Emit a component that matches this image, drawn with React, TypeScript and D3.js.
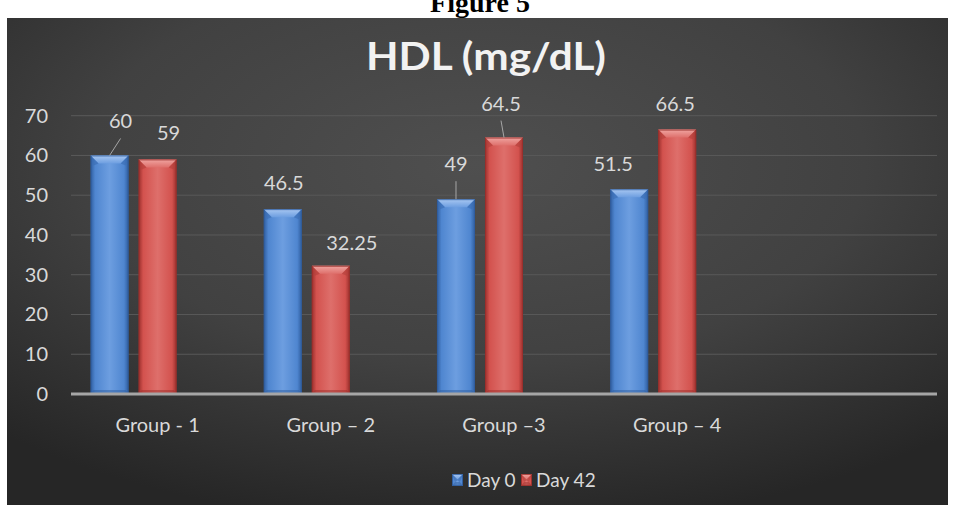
import React from "react";
import * as d3 from "d3";

const categories = ["Group - 1", "Group \u2013 2", "Group \u20133", "Group \u2013 4", ""];
const seriesNames = ["Day 0", "Day 42", ""];
const day0 = [60, 46.5, 49, 51.5];
const day42 = [59, 32.25, 64.5, 66.5];
const yTicks = [0, 10, 20, 30, 40, 50, 60, 70];

// label placement tweaks (display config, not data)
const day0LabelShift = [[11, -8], [1, 0], [0, -9], [-16, 1]];
const day42LabelShift = [[11, 0], [21, 3], [-3, -8], [-2, 0]];
const day0Leader = [true, false, true, false];
const day42Leader = [false, false, true, false];

const W = 956;
const H = 513;
const panel = { x: 7, y: 18, w: 941, h: 487 };
const plot = { left: 71, right: 937, top: 115.7, bottom: 394 };
const FONT = "Lato, 'Open Sans', sans-serif";
const TXT = "#d9d9d9";

const palettes = [
  { base: "#4f86d0", light: "#a9c8f2", mid: "#6d9ee0", dark: "#2f5d9e", edge: "#3a6db3" },
  { base: "#d3524e", light: "#f0a5a1", mid: "#de6f6b", dark: "#9a2f2c", edge: "#b33f3b" },
];

function Bar({ x, y, w, h, p, id }: any) {
  const b = Math.min(8, h / 2);
  const s = 3;
  return (
    <g>
      <defs>
        <linearGradient id={`bg${id}`} x1="0" x2="1" y1="0" y2="0">
          <stop offset="0" stopColor={p.dark} />
          <stop offset="0.12" stopColor={p.base} />
          <stop offset="0.5" stopColor={p.mid} />
          <stop offset="0.88" stopColor={p.base} />
          <stop offset="1" stopColor={p.dark} />
        </linearGradient>
        <linearGradient id={`tg${id}`} x1="0" x2="0" y1="0" y2="1">
          <stop offset="0" stopColor={p.light} />
          <stop offset="1" stopColor={p.mid} />
        </linearGradient>
      </defs>
      <rect x={x} y={y} width={w} height={h} fill={`url(#bg${id})`} />
      <polygon points={`${x},${y} ${x + w},${y} ${x + w - b},${y + b} ${x + b},${y + b}`} fill={`url(#tg${id})`} />
      <polygon points={`${x},${y} ${x + b},${y + b} ${x + s},${y + b + 2} `} fill={p.edge} opacity={0.6} />
      <polygon points={`${x + w},${y} ${x + w - b},${y + b} ${x + w - s},${y + b + 2}`} fill={p.edge} opacity={0.6} />
      <polygon points={`${x},${y + h} ${x + w},${y + h} ${x + w - s},${y + h - 4} ${x + s},${y + h - 4}`} fill={p.dark} opacity={0.5} />
      <rect x={x + 0.5} y={y + 0.5} width={w - 1} height={h - 1} fill="none" stroke={p.dark} strokeWidth={1} opacity={0.8} />
    </g>
  );
}

export default function App() {
  const x0 = d3.scaleBand<string>().domain(categories.map((c, i) => String(i))).range([plot.left, plot.right]).paddingInner(0.226).paddingOuter(0.113);
  const x1 = d3.scaleBand<string>().domain(seriesNames.map((s, i) => String(i))).range([0, x0.bandwidth()]).paddingInner(0.208);
  const y = d3.scaleLinear().domain([0, 70]).range([plot.bottom, plot.top]);

  const series = [
    { values: day0, shift: day0LabelShift, leader: day0Leader },
    { values: day42, shift: day42LabelShift, leader: day42Leader },
  ];

  return (
    <svg width={W} height={H} style={{ position: "absolute", left: 0, top: 0, background: "#fff" }}>
      <defs>
        <radialGradient id="panelBg" cx="0.5" cy="0.3" r="0.75">
          <stop offset="0" stopColor="#4f4f4f" />
          <stop offset="0.55" stopColor="#414141" />
          <stop offset="1" stopColor="#262626" />
        </radialGradient>
      </defs>
      <text x={480} y={12} textAnchor="middle" fontFamily="'Liberation Serif', 'Times New Roman', serif" fontWeight="bold" fontSize={28} fill="#000">
        Figure 5
      </text>
      <rect x={panel.x} y={panel.y} width={panel.w} height={panel.h} fill="url(#panelBg)" />
      <text x={486} y={70} textAnchor="middle" fontFamily={FONT} fontWeight="bold" fontSize={38} fill="#f2f2f2" textLength={240} lengthAdjust="spacingAndGlyphs">
        HDL (mg/dL)
      </text>
      {yTicks.map((t) => (
        <g key={t}>
          {t > 0 && <line x1={plot.left} x2={plot.right} y1={y(t)} y2={y(t)} stroke="#595959" strokeWidth={1} />}
          <text x={48} y={y(t) + 7} textAnchor="end" fontFamily={FONT} fontSize={20} fill={TXT}>
            {t}
          </text>
        </g>
      ))}
      {series.map((s, si) =>
        s.values.map((v, ci) => {
          const bx = (x0(String(ci)) as number) + (x1(String(si)) as number);
          const bw = x1.bandwidth();
          const top = y(v);
          return (
            <Bar key={`${si}-${ci}`} id={`${si}-${ci}`} x={bx} y={top} w={bw} h={y(0) - top} p={palettes[si]} />
          );
        })
      )}
      <line x1={plot.left} x2={plot.right} y1={y(0)} y2={y(0)} stroke="#a6a6a6" strokeWidth={3} />
      {series.map((s, si) =>
        s.values.map((v, ci) => {
          const cx = (x0(String(ci)) as number) + (x1(String(si)) as number) + x1.bandwidth() / 2;
          const top = y(v);
          const lx = cx + s.shift[ci][0];
          const ly = top - 26 + s.shift[ci][1];
          return (
            <g key={`l${si}-${ci}`}>
              {s.leader[ci] && <line x1={cx} y1={top} x2={lx} y2={ly + 17} stroke="#a6a6a6" strokeWidth={1} />}
              <text x={lx} y={ly + 7} textAnchor="middle" fontFamily={FONT} fontSize={20} fill={TXT}>
                {String(v)}
              </text>
            </g>
          );
        })
      )}
      {categories.map((c, i) =>
        c ? (
          <text key={c} x={(x0(String(i)) as number) + x0.bandwidth() / 2} y={432} textAnchor="middle" fontFamily={FONT} fontSize={20} fill={TXT}>
            {c}
          </text>
        ) : null
      )}
      {[0, 1].map((si) => {
        const lx = si === 0 ? 452 : 521;
        const p = palettes[si];
        return (
          <g key={`lg${si}`}>
            <Bar id={`lg${si}`} x={lx} y={474} w={11} h={12} p={{ ...p }} />
            <text x={lx + 15} y={487} fontFamily={FONT} fontSize={19} fill={TXT}>
              {seriesNames[si]}
            </text>
          </g>
        );
      })}
    </svg>
  );
}
